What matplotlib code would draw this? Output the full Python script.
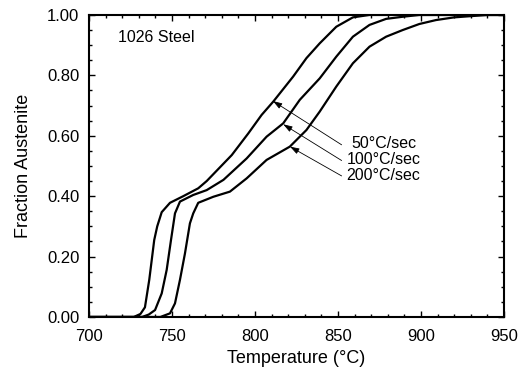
"""Fraction austenite vs temperature for 1026 steel at three heating rates."""

import matplotlib

matplotlib.use("Agg")
import matplotlib.pyplot as plt
from matplotlib.ticker import MultipleLocator, FormatStrFormatter

plt.rcParams["font.family"] = ["Liberation Sans", "DejaVu Sans"]

# 50 C/sec
T50 = [700, 727, 731, 733.7, 736.3, 739.3, 741.1, 743.8, 748.8, 756.8, 765.8,
       770.9, 786, 796, 804, 811, 823, 831, 839, 849, 859, 869, 950]
F50 = [0, 0, 0.01, 0.032, 0.123, 0.255, 0.30, 0.347, 0.378, 0.40, 0.426,
       0.45, 0.536, 0.608, 0.669, 0.713, 0.796, 0.857, 0.906, 0.961, 0.992, 1.0, 1.0]

# 100 C/sec
T100 = [700, 732, 736, 739.8, 743.8, 746.8, 749.4, 751.8, 754.8, 762.8, 770.9,
        781, 795, 807, 817, 827, 839, 849, 859, 869, 879, 889, 899, 950]
F100 = [0, 0, 0.008, 0.023, 0.078, 0.156, 0.255, 0.343, 0.382, 0.404, 0.42,
        0.454, 0.525, 0.597, 0.641, 0.719, 0.79, 0.862, 0.928, 0.967, 0.987, 0.994, 1.0, 1.0]

# 200 C/sec
T200 = [700, 743, 748.8, 751.8, 754.8, 757.8, 760.8, 762.8, 765.8, 774.9, 784.9,
        795, 807, 821, 831, 839, 849, 859, 869, 879, 889, 899, 909, 920, 930, 940, 950]
F200 = [0, 0, 0.012, 0.045, 0.123, 0.21, 0.31, 0.343, 0.378, 0.398, 0.415,
        0.459, 0.52, 0.564, 0.619, 0.68, 0.763, 0.84, 0.895, 0.928, 0.95, 0.97, 0.983,
        0.992, 0.996, 1.0, 1.0]

RATE_LABELS = ["50\u00b0C/sec", "100\u00b0C/sec", "200\u00b0C/sec"]
ARROW_HEADS = [(810.8, 0.715), (817.0, 0.638), (821.1, 0.564)]
ARROW_TAILS = [(852.2, 0.57), (852.2, 0.518), (852.2, 0.467)]
LABEL_Y = [0.575, 0.522, 0.47]

fig = plt.figure(figsize=(5.19, 3.69), dpi=100)
ax = fig.add_axes([0.1715, 0.141, 0.7995, 0.8185])

for T, F in [(T50, F50), (T100, F100), (T200, F200)]:
    ax.plot(T, F, color="black", linewidth=1.6, solid_joinstyle="round")

for head, tail, label, ly in zip(ARROW_HEADS, ARROW_TAILS, RATE_LABELS, LABEL_Y):
    ax.annotate("", xy=head, xytext=tail,
                arrowprops=dict(arrowstyle="-|>,head_length=0.55,head_width=0.18",
                                color="black", linewidth=0.6,
                                shrinkA=0, shrinkB=0))
    ax.text(877.5, ly, label, ha="center", va="center", fontsize=11.5)

ax.text(717.5, 0.925, "1026 Steel", ha="left", va="center", fontsize=11.5)

ax.set_xlim(700, 950)
ax.set_ylim(0, 1.0)
ax.xaxis.set_major_locator(MultipleLocator(50))
ax.xaxis.set_minor_locator(MultipleLocator(10))
ax.yaxis.set_major_locator(MultipleLocator(0.2))
ax.yaxis.set_minor_locator(MultipleLocator(0.05))
ax.yaxis.set_major_formatter(FormatStrFormatter("%.2f"))
ax.tick_params(which="both", direction="in", top=True, right=True, width=1.0)
ax.tick_params(which="major", length=4.5)
ax.tick_params(which="minor", length=2.2)
ax.tick_params(axis="x", which="major", pad=9, labelsize=12)
ax.tick_params(axis="y", which="major", pad=7, labelsize=12)
for sp in ax.spines.values():
    sp.set_linewidth(1.5)

ax.set_xlabel("Temperature (\u00b0C)", fontsize=13, labelpad=4)
ax.set_ylabel("Fraction Austenite", fontsize=13, labelpad=11)

fig.savefig("out.png", dpi=100)
